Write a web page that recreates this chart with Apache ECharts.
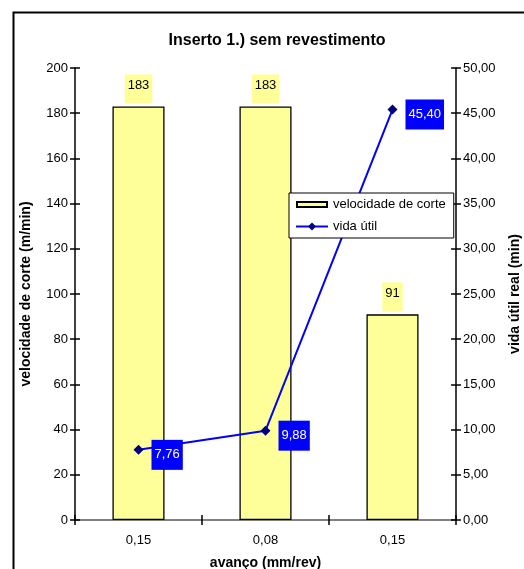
<!DOCTYPE html>
<html><head><meta charset="utf-8">
<script src="https://cdn.jsdelivr.net/npm/echarts@6/dist/echarts.min.js"></script>
<style>html,body{margin:0;padding:0;background:#fff;overflow:hidden;}#c{width:524px;height:569px;}</style>
</head><body><div id="c"></div>
<script>
var categories = ['0,15', '0,08', '0,15'];
var velocidade = [183, 183, 91];
var vidaUtil = [7.76, 9.88, 45.40];
var leftTicks = {min: 0, max: 200, interval: 20};
var rightTicks = {min: 0, max: 50, interval: 5};

var FONT = 'Liberation Sans, Arial, sans-serif';
function fmt2(v){ return Number(v).toFixed(2).replace('.', ','); }

var chart = echarts.init(document.getElementById('c'));
var tickStyle = {color: '#000', width: 1.5};
chart.setOption({
  animation: false,
  textStyle: {fontFamily: FONT},
  title: {
    text: 'Inserto 1.) sem revestimento',
    left: 272, top: 28, textAlign: 'center',
    textStyle: {fontSize: 16, fontWeight: 'bold', color: '#000', fontFamily: FONT}
  },
  graphic: [{
    type: 'rect', silent: true,
    shape: {x: 13.5, y: 12.5, width: 620, height: 620},
    style: {fill: 'none', stroke: '#000', lineWidth: 2}
  }],
  legend: {
    orient: 'vertical', left: 289, top: 193,
    backgroundColor: '#fff', borderColor: '#000', borderWidth: 1,
    padding: [5, 8, 5, 6], itemGap: 9, itemWidth: 32, itemHeight: 10,
    textStyle: {fontSize: 13, color: '#000', fontFamily: FONT},
    data: [
      {name: 'velocidade de corte', icon: 'path://M0,0M0,2.5L30,2.5L30,7.5L0,7.5ZM30,10'},
      {name: 'vida útil'}
    ]
  },
  grid: {left: 75, right: 68, top: 68, bottom: 49, containLabel: false, outerBoundsMode: 'none'},
  xAxis: [{
    type: 'category', data: categories, position: 'bottom',
    axisLine: {lineStyle: {color: '#000', width: 1.5}},
    axisTick: {show: true, length: 5, lineStyle: tickStyle},
    axisLabel: {fontSize: 13, color: '#000', margin: 14, fontFamily: FONT},
    name: 'avanço (mm/rev)', nameLocation: 'middle', nameGap: 36,
    nameTextStyle: {fontSize: 14, fontWeight: 'bold', color: '#000', fontFamily: FONT}
  }, {
    type: 'category', data: categories, position: 'bottom',
    axisLine: {show: false},
    axisTick: {show: true, inside: true, length: 5, lineStyle: tickStyle},
    axisLabel: {show: false}
  }, {
    type: 'category', data: categories, position: 'top',
    axisLine: {lineStyle: {color: '#808080', width: 2}},
    axisTick: {show: false}, axisLabel: {show: false}
  }],
  yAxis: [{
    type: 'value', position: 'left',
    min: leftTicks.min, max: leftTicks.max, interval: leftTicks.interval,
    axisLine: {show: true, lineStyle: {color: '#000', width: 1.5}},
    axisTick: {show: true, length: 5, lineStyle: tickStyle},
    splitLine: {show: false},
    axisLabel: {fontSize: 13, color: '#000', margin: 7, fontFamily: FONT},
    name: 'velocidade de corte (m/min)', nameLocation: 'middle', nameGap: 42, nameRotate: 90,
    nameTextStyle: {fontSize: 14, fontWeight: 'bold', color: '#000', fontFamily: FONT}
  }, {
    type: 'value', position: 'right',
    min: rightTicks.min, max: rightTicks.max, interval: rightTicks.interval,
    axisLine: {show: true, lineStyle: {color: '#000', width: 1.5}},
    axisTick: {show: true, length: 5, lineStyle: tickStyle},
    splitLine: {show: false},
    axisLabel: {fontSize: 13, color: '#000', margin: 7, fontFamily: FONT, formatter: fmt2},
    name: 'vida útil real (min)', nameLocation: 'middle', nameGap: 52, nameRotate: 90,
    nameTextStyle: {fontSize: 14, fontWeight: 'bold', color: '#000', fontFamily: FONT}
  }, {
    type: 'value', position: 'left',
    min: leftTicks.min, max: leftTicks.max, interval: leftTicks.interval,
    axisLine: {show: false}, splitLine: {show: false}, axisLabel: {show: false},
    axisTick: {show: true, inside: true, length: 5, lineStyle: tickStyle}
  }, {
    type: 'value', position: 'right',
    min: rightTicks.min, max: rightTicks.max, interval: rightTicks.interval,
    axisLine: {show: false}, splitLine: {show: false}, axisLabel: {show: false},
    axisTick: {show: true, inside: true, length: 5, lineStyle: tickStyle}
  }],
  series: [{
    name: 'velocidade de corte', type: 'bar', data: velocidade,
    xAxisIndex: 0, yAxisIndex: 0, barWidth: '41%',
    itemStyle: {color: '#FFFF99', borderColor: '#000', borderWidth: 1.3},
    label: {
      show: true, position: 'top', distance: 3, color: '#000', fontSize: 13,
      fontFamily: FONT, backgroundColor: '#FFFF99', padding: [5, 3, 11, 3]
    }
  }, {
    name: 'vida útil', type: 'line', data: vidaUtil,
    xAxisIndex: 0, yAxisIndex: 1,
    lineStyle: {color: '#0000FF', width: 2},
    itemStyle: {color: '#000080'},
    symbol: 'diamond', symbolSize: 10,
    label: {
      show: true, position: 'right', distance: 8, color: '#fff', fontSize: 13,
      fontFamily: FONT, backgroundColor: '#0000FF', padding: [5, 3, 12, 3],
      offset: [0, 5],
      formatter: function(p){ return fmt2(p.value); }
    }
  }]
});
</script></body></html>
